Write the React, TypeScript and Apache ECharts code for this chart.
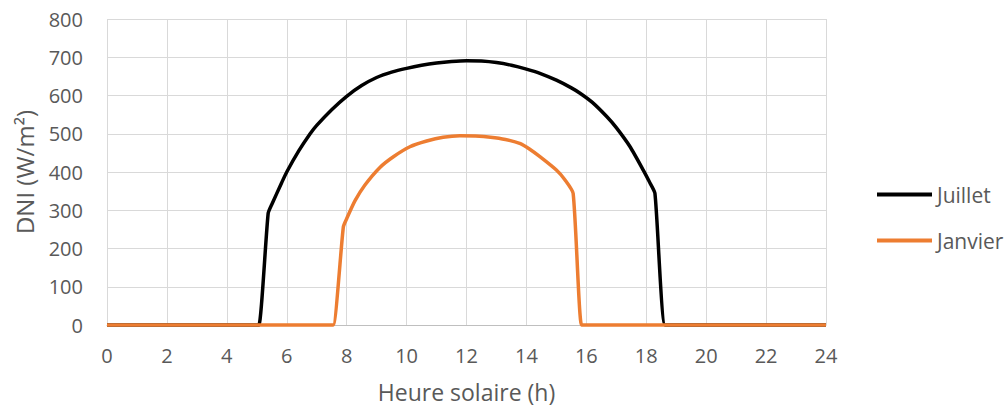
import React, { useEffect, useRef } from "react";
import * as echarts from "echarts";

const seriesNames = ["Juillet", "Janvier"];

const juilletHours = [0, 1, 2, 3, 4, 5, 5.07, 5.38, 5.5, 5.83, 6.0, 6.4, 6.78, 7.0, 7.5, 8.0, 8.5, 9.0, 9.5, 10.0, 10.5, 11.0, 11.5, 12.0, 12.5, 13.0, 13.5, 14.0, 14.45, 15.0, 15.5, 15.79, 16.2, 16.68, 17.0, 17.46, 17.9, 18.1, 18.29, 18.63, 19, 20, 21, 22, 23, 24];
const juilletValues = [0, 0, 0, 0, 0, 0, 0, 292, 315, 372, 400, 455, 500, 522, 563, 598, 626, 647, 661, 671, 679, 685, 689, 691, 690, 686, 679, 669, 658, 640, 620, 606, 582, 545, 516, 466, 405, 375, 344, 0, 0, 0, 0, 0, 0, 0];

const janvierHours = [0, 1, 2, 3, 4, 5, 6, 7, 7.4, 7.55, 7.89, 8.0, 8.28, 8.61, 9.11, 9.56, 10.11, 10.67, 11.22, 11.78, 12.3, 12.8, 13.3, 13.8, 14.1, 14.45, 15.0, 15.29, 15.56, 15.84, 16, 17, 18, 19, 20, 21, 22, 23, 24];
const janvierValues = [0, 0, 0, 0, 0, 0, 0, 0, 0, 0, 257, 278, 325, 366, 412, 440, 466, 481, 491, 495, 494, 491, 485, 474, 460, 440, 405, 379, 344, 0, 0, 0, 0, 0, 0, 0, 0, 0, 0];

const xTicks = { min: 0, max: 24, interval: 2 };
const yTicks = { min: 0, max: 800, interval: 100 };

const xName = "Heure solaire (h)";
const yName = "DNI (W/m²)";

const colors = ["#000000", "#ED7D31"];

function pairs(xs: number[], ys: number[]) {
  return xs.map((x, i) => [x, ys[i]]);
}

export default function App() {
  const ref = useRef<HTMLDivElement>(null);
  useEffect(() => {
    if (!ref.current) return;
    const chart = echarts.init(ref.current, undefined, { renderer: "svg" });
    const font = "Open Sans";
    const tc = "#595959";
    chart.setOption({
      animation: false,
      textStyle: { fontFamily: font },
      grid: {
        left: 107,
        right: 179,
        top: 19,
        bottom: 81,
        containLabel: false,
        outerBoundsMode: "none",
      },
      legend: {
        orient: "vertical",
        left: 877,
        top: 184,
        padding: 0,
        icon: "rect",
        itemWidth: 55,
        itemHeight: 4,
        itemGap: 25,
        textStyle: { fontFamily: font, fontSize: 21, color: tc, lineHeight: 21 },
        data: seriesNames,
      },
      xAxis: {
        type: "value",
        min: xTicks.min,
        max: xTicks.max,
        interval: xTicks.interval,
        name: xName,
        nameLocation: "middle",
        nameGap: 55,
        nameTextStyle: { fontFamily: font, fontSize: 23, color: tc },
        axisLine: { show: true, lineStyle: { color: "#bfbfbf", width: 1 } },
        axisTick: { show: false },
        axisLabel: { fontFamily: font, fontSize: 20, color: tc, margin: 20 },
        splitLine: { show: true, lineStyle: { color: "#d9d9d9", width: 1 } },
      },
      yAxis: {
        type: "value",
        min: yTicks.min,
        max: yTicks.max,
        interval: yTicks.interval,
        name: yName,
        nameLocation: "middle",
        nameGap: 71,
        nameMoveOverlap: false,
        nameTextStyle: { fontFamily: font, fontSize: 24, color: tc },
        axisLine: { show: false },
        axisTick: { show: false },
        axisLabel: { fontFamily: font, fontSize: 20, color: tc, margin: 24 },
        splitLine: { show: true, lineStyle: { color: "#d9d9d9", width: 1 } },
      },
      series: [
        {
          name: seriesNames[0],
          type: "line",
          data: pairs(juilletHours, juilletValues),
          showSymbol: false,
          symbol: "none",
          smooth: 0.2,
          clip: false,
          lineStyle: { color: colors[0], width: 3.5 },
          itemStyle: { color: colors[0] },
        },
        {
          name: seriesNames[1],
          type: "line",
          data: pairs(janvierHours, janvierValues),
          showSymbol: false,
          symbol: "none",
          smooth: 0.2,
          clip: false,
          lineStyle: { color: colors[1], width: 3.5 },
          itemStyle: { color: colors[1] },
        },
      ],
    });
    return () => chart.dispose();
  }, []);
  return (
    <div
      ref={ref}
      style={{ position: "absolute", left: 0, top: 0, width: 1005, height: 406, background: "#fff" }}
    />
  );
}
